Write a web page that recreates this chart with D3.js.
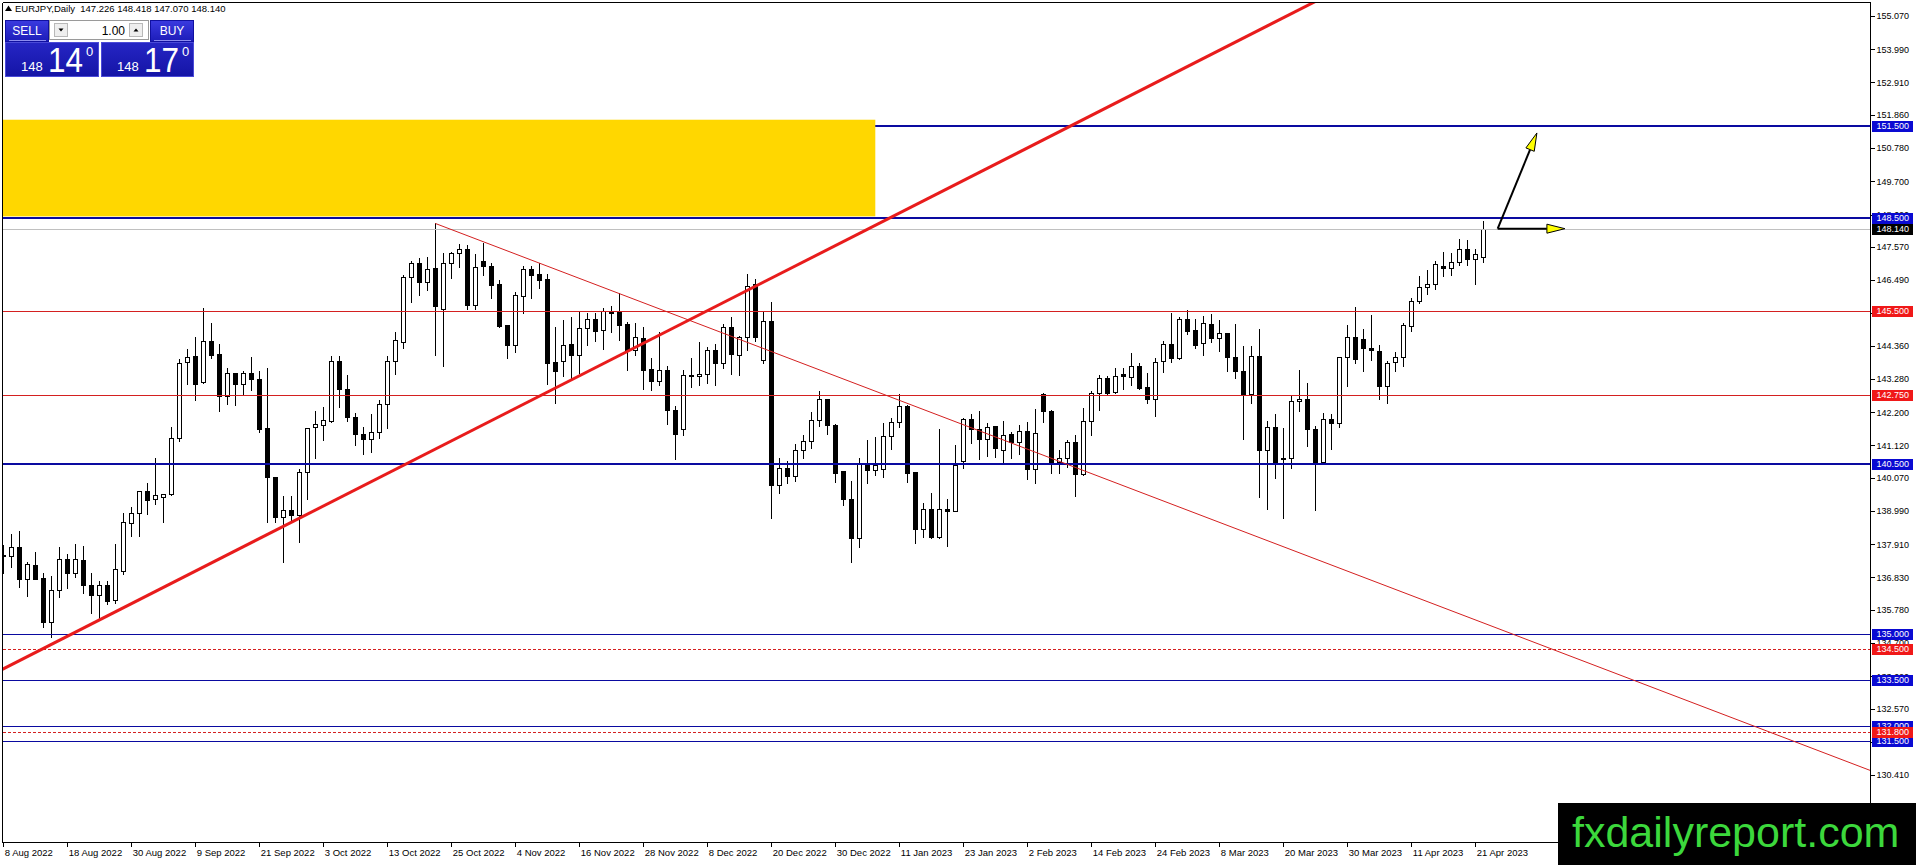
<!DOCTYPE html>
<html>
<head>
<meta charset="utf-8">
<title>EURJPY Daily</title>
<style>
  html, body { margin: 0; padding: 0; background: #fff; overflow: hidden; }
  svg { display: block; font-family: "Liberation Sans", Arial, sans-serif; }
</style>
</head>
<body>
<svg id="chart" width="1916" height="865"></svg>
<script src="https://cdn.jsdelivr.net/npm/d3@7/dist/d3.min.js"></script>
<script>
// daily bars, 8 Aug 2022 .. 24 Apr 2023 (weekdays)
const opens = [
  137.53,137.54,137.81,136.79,137.22,136.81,135.39,136.41,137.42,136.98,
  137.39,136.59,136.27,136.59,136.10,137.05,138.59,138.91,139.63,139.37,
  139.43,139.53,141.35,143.82,144.02,143.17,144.50,144.08,142.72,143.46,
  143.12,143.46,143.27,141.67,140.08,138.78,139.01,138.85,140.24,141.71,
  141.77,141.91,143.85,142.94,142.03,141.48,141.32,141.54,142.45,143.85,
  144.47,146.59,147.03,146.42,146.87,145.54,147.03,147.36,147.49,145.69,
  147.10,146.94,146.37,145.02,144.39,145.96,146.84,146.68,146.51,143.82,
  143.87,144.40,144.07,144.92,145.21,144.88,145.49,145.44,145.05,144.23,
  144.60,143.59,143.20,143.56,142.28,141.64,143.37,143.37,143.43,144.21,
  143.78,144.95,144.05,144.63,146.36,143.90,145.15,139.84,140.37,140.14,
  140.97,141.25,141.93,142.62,141.77,140.28,139.37,138.10,140.56,140.31,
  140.34,141.41,141.88,142.39,140.24,138.39,139.04,138.13,139.04,139.00,
  140.62,141.97,141.64,141.34,141.74,140.96,141.48,141.24,141.58,140.34,
  142.78,142.23,140.57,140.70,141.22,140.18,141.90,142.81,143.30,142.84,
  143.43,143.33,143.69,143.00,142.62,143.85,144.40,143.95,145.21,144.86,
  144.43,145.05,144.60,144.76,143.99,143.53,142.80,144.01,140.96,141.71,
  140.70,140.70,142.55,142.62,141.64,140.59,141.97,141.84,143.98,144.63,
  144.57,144.27,144.17,143.04,143.82,143.98,144.99,145.80,146.25,146.35,
  146.94,146.87,147.07,147.49,147.16,147.226
];
const highs = [
  137.88,138.23,138.34,137.34,137.64,136.98,136.88,137.81,137.58,137.91,
  137.86,136.98,136.71,136.71,137.91,138.91,139.13,139.65,139.91,140.70,
  139.54,141.71,143.93,144.24,144.65,145.57,145.08,144.40,143.62,143.48,
  143.55,144.00,143.53,143.62,140.10,139.48,139.48,140.34,141.69,142.24,
  142.38,144.03,144.03,143.42,142.16,141.73,142.14,142.59,144.03,144.80,
  146.67,147.10,147.20,147.23,148.33,147.36,147.41,147.65,147.63,147.33,
  147.71,147.03,146.49,145.03,146.09,146.94,146.94,147.03,146.68,144.98,
  145.19,145.30,145.44,145.43,145.43,145.57,145.65,146.06,145.14,145.09,
  144.97,143.96,144.79,143.70,142.39,143.56,143.96,144.49,144.32,144.40,
  145.05,145.28,144.67,146.68,146.52,145.44,145.77,140.71,140.60,141.15,
  141.45,142.20,142.89,142.63,141.83,140.29,139.95,140.70,141.30,141.38,
  141.84,142.00,142.79,142.42,140.25,139.24,139.56,141.65,139.37,141.13,
  142.00,142.13,142.23,141.84,141.75,141.91,141.54,141.77,141.88,142.29,
  142.81,142.27,140.97,141.28,141.45,142.32,142.88,143.40,143.37,143.62,
  143.62,144.11,143.78,143.46,143.95,144.50,145.41,145.28,145.51,145.21,
  145.31,145.38,145.18,144.77,145.05,144.34,144.34,144.91,141.92,142.15,
  141.67,142.73,143.57,143.14,141.76,142.16,142.13,144.00,145.02,145.60,
  144.89,145.34,144.37,143.86,144.16,145.09,145.90,146.61,146.81,147.10,
  147.39,147.36,147.81,147.78,147.49,148.418
];
const lows = [
  136.98,137.18,136.53,136.24,136.77,135.21,134.88,136.18,136.50,136.85,
  136.33,135.66,135.50,135.97,136.01,136.94,138.19,138.19,138.88,139.20,
  138.62,139.50,141.27,143.10,142.58,143.15,143.96,142.23,142.47,142.44,
  142.74,142.92,141.56,138.64,138.62,137.32,138.64,137.99,139.37,140.72,
  141.30,141.89,142.38,141.91,141.14,140.83,140.92,141.37,141.68,143.43,
  144.29,145.79,146.02,146.16,144.07,143.71,146.57,146.90,145.54,145.54,
  146.67,145.92,144.95,143.97,144.16,145.43,145.92,146.24,143.12,142.51,
  143.38,143.29,143.46,144.39,144.50,144.26,144.81,144.55,143.58,144.04,
  142.96,142.93,143.09,141.83,140.69,141.45,143.03,143.09,143.16,143.09,
  143.64,143.45,143.42,144.23,144.52,143.81,138.75,139.58,139.89,139.97,
  140.72,141.05,141.76,141.50,139.92,139.19,137.32,137.81,139.91,140.16,
  140.10,141.01,141.73,139.94,137.94,138.15,138.12,138.12,137.86,138.98,
  140.40,141.19,140.69,140.79,140.75,140.54,140.70,140.83,140.02,139.89,
  141.89,140.21,140.21,140.43,139.49,140.16,141.45,142.28,142.75,142.81,
  142.95,143.09,142.95,142.49,142.09,143.49,143.82,143.94,144.73,144.27,
  144.05,144.49,144.18,143.55,143.30,141.32,142.49,139.43,139.06,140.07,
  138.75,140.37,142.25,141.09,139.01,140.54,140.99,141.73,143.06,143.81,
  143.55,143.90,142.64,142.49,143.52,143.71,144.83,145.74,146.03,146.19,
  146.61,146.67,146.97,146.97,146.35,147.070
];
const closes = [
  137.56,137.81,136.79,137.26,136.79,135.39,136.41,137.42,136.98,137.42,
  136.59,136.27,136.59,136.07,137.09,138.62,138.91,139.63,139.35,139.50,
  139.53,141.35,143.81,144.00,143.10,144.50,144.07,142.72,143.46,143.10,
  143.46,143.27,141.65,140.08,138.78,139.01,138.85,140.24,141.67,141.80,
  141.93,143.85,142.94,142.03,141.48,141.32,141.54,142.45,143.85,144.53,
  146.59,147.03,146.42,146.86,145.66,147.03,147.36,147.49,145.69,146.90,
  146.94,146.34,145.01,144.39,145.99,146.84,146.67,146.50,143.81,143.55,
  144.37,144.07,144.93,145.21,144.85,145.49,145.43,145.04,144.23,144.63,
  143.58,143.20,143.56,142.28,141.48,143.40,143.41,143.44,144.21,143.78,
  144.95,144.08,144.63,146.31,144.63,145.15,139.84,140.37,140.14,140.97,
  141.25,141.93,142.62,141.77,140.23,139.37,138.10,140.56,140.31,140.47,
  141.41,141.88,142.39,140.23,138.39,139.04,138.13,139.04,139.00,140.49,
  141.97,141.64,141.34,141.73,141.05,141.45,141.24,141.58,140.34,141.51,
  142.23,140.54,140.70,141.22,140.18,141.90,142.81,143.30,142.81,143.36,
  143.36,143.69,142.99,142.62,143.82,144.40,143.95,145.21,144.85,144.37,
  145.08,144.60,144.76,143.98,143.52,142.80,144.01,140.96,141.71,140.54,
  140.69,142.55,142.62,141.64,140.54,141.97,141.84,143.98,144.63,143.94,
  144.27,144.21,143.04,143.78,143.98,145.02,145.80,146.25,146.35,147.00,
  146.87,147.07,147.49,147.16,147.33,148.140
];

const dateLabels = [
  "8 Aug 2022","18 Aug 2022","30 Aug 2022","9 Sep 2022","21 Sep 2022","3 Oct 2022",
  "13 Oct 2022","25 Oct 2022","4 Nov 2022","16 Nov 2022","28 Nov 2022","8 Dec 2022",
  "20 Dec 2022","30 Dec 2022","11 Jan 2023","23 Jan 2023","2 Feb 2023","14 Feb 2023",
  "24 Feb 2023","8 Mar 2023","20 Mar 2023","30 Mar 2023","11 Apr 2023","21 Apr 2023"
];
const priceTicks = [
  155.07,153.99,152.91,151.86,150.78,149.70,148.62,147.57,146.49,145.41,144.36,143.28,
  142.20,141.12,140.07,138.99,137.91,136.83,135.78,134.70,133.62,132.57,131.49,130.41
];

const majorBlueLevels = [151.5, 148.5, 140.5];
const minorBlueLevels = [135.0, 133.5, 132.0, 131.5];
const redLevels = [145.5, 142.75];
const redDashedLevels = [134.5, 131.8];
const lastPrice = 148.140;

const symbolName = "EURJPY,Daily";
const headerOhlc = [147.226, 148.418, 147.070, 148.140];
const bidParts = ["148", "14", "0"];
const askParts = ["148", "17", "0"];
const lotSize = "1.00";

// drawn objects: [bar index, price]
const supportTrend = [[0, 133.86], [100, 147.08]];
const resistTrend = [[54, 148.33], [130, 140.80]];
const zoneBars = [-5, 109];
const zonePrices = [151.70, 148.56];
const arrowFrom = [186.8, 148.16];
const arrowTargets = [[191.7, 151.27], [195.2, 148.16]];

const W = 1916, H = 865;
const pL = 2.5, pT = 2.5, pR = 1870.5, pB = 842.5;

const svg = d3.select("#chart");
const x = d3.scaleLinear().domain([0, 185]).range([3.3, 1483.3]);
const y = d3.scaleLinear().domain([130.41, 155.07]).range([775, 16]);
const px = v => Math.round(v) + 0.5;

const blueLine = "#0a0aa0", blueTag = "#0a0ad2";
const redLine = "#d42020", redTag = "#f01818";

const defs = svg.append("defs");
defs.append("clipPath").attr("id", "plot")
  .append("rect").attr("x", 3).attr("y", 3).attr("width", pR - 3.5).attr("height", pB - 3.5);

const plot = svg.append("g").attr("clip-path", "url(#plot)");

// candles
const bars = d3.range(opens.length).map(i => ({ i, o: opens[i], h: highs[i], l: lows[i], c: closes[i] }));
const cg = plot.append("g").attr("shape-rendering", "crispEdges");
cg.selectAll("line.wick").data(bars).join("line")
  .attr("class", "wick")
  .attr("x1", d => px(x(d.i))).attr("x2", d => px(x(d.i)))
  .attr("y1", d => Math.round(y(d.h))).attr("y2", d => Math.round(y(d.l)) + 1)
  .attr("stroke", "#000").attr("stroke-width", 1);
cg.selectAll("path.body").data(bars).join("path")
  .attr("class", "body")
  .attr("d", d => {
    const bx = Math.round(x(d.i));
    const t = Math.round(y(Math.max(d.o, d.c))) + 0.5;
    const b = Math.round(y(Math.min(d.o, d.c))) + 0.5;
    return `M${bx - 1.5},${t}H${bx + 2.5}V${b}H${bx - 1.5}Z`;
  })
  .attr("fill", d => d.c >= d.o ? "#fff" : "#000")
  .attr("stroke", "#000").attr("stroke-width", 1);

// horizontal levels
const lg = plot.append("g").attr("shape-rendering", "crispEdges");
function hline(p, color, width, dash) {
  const yy = width % 2 ? px(y(p)) : Math.round(y(p));
  const l = lg.append("line").attr("x1", pL).attr("x2", pR)
    .attr("y1", yy).attr("y2", yy).attr("stroke", color).attr("stroke-width", width);
  if (dash) l.attr("stroke-dasharray", dash);
}
hline(lastPrice, "#c0c0c0", 1);
majorBlueLevels.forEach(p => hline(p, blueLine, 2));
minorBlueLevels.forEach(p => hline(p, blueLine, 1));
redLevels.forEach(p => hline(p, redLine, 1));
redDashedLevels.forEach(p => hline(p, redLine, 1, "3,2"));

// supply zone (sits over the 151.5 level, just above the 148.5 level)
plot.append("rect")
  .attr("x", x(zoneBars[0])).attr("width", x(zoneBars[1]) - x(zoneBars[0]))
  .attr("y", y(zonePrices[0])).attr("height", y(zonePrices[1]) - y(zonePrices[0]))
  .attr("fill", "#ffd700");

// trend lines
function ray(pts, color, width, fromStart) {
  const [a, b] = pts;
  const slope = (b[1] - a[1]) / (b[0] - a[0]);
  const i0 = fromStart ? a[0] : -20, i1 = 260;
  plot.append("line")
    .attr("x1", x(i0)).attr("y1", y(a[1] + slope * (i0 - a[0])))
    .attr("x2", x(i1)).attr("y2", y(a[1] + slope * (i1 - a[0])))
    .attr("stroke", color).attr("stroke-width", width);
}
ray(supportTrend, "#e81c1c", 3, false);
ray(resistTrend, redLine, 1, true);

// arrows
function arrow(from, to) {
  const x0 = x(from[0]), y0 = y(from[1]), x1 = x(to[0]), y1 = y(to[1]);
  const ang = Math.atan2(y1 - y0, x1 - x0);
  const len = 18, hw = 4.5;
  const bxp = x1 - len * Math.cos(ang), byp = y1 - len * Math.sin(ang);
  plot.append("line").attr("x1", x0).attr("y1", y0).attr("x2", bxp).attr("y2", byp)
    .attr("stroke", "#000").attr("stroke-width", 2);
  const nx = -Math.sin(ang) * hw, ny = Math.cos(ang) * hw;
  plot.append("path")
    .attr("d", `M${x1},${y1}L${bxp + nx},${byp + ny}L${bxp - nx},${byp - ny}Z`)
    .attr("fill", "#ffff00").attr("stroke", "#000").attr("stroke-width", 1);
}
arrowTargets.forEach(t => arrow(arrowFrom, t));

// frame
const fg = svg.append("g").attr("shape-rendering", "crispEdges").attr("stroke", "#000");
fg.append("line").attr("x1", pL).attr("x2", pR).attr("y1", pT).attr("y2", pT);
fg.append("line").attr("x1", pL).attr("x2", pL).attr("y1", pT).attr("y2", pB);

// price axis
const yAxis = d3.axisRight(y).tickValues(priceTicks).tickFormat(d3.format(".3f"))
  .tickSize(4).tickPadding(2);
const ya = svg.append("g").attr("transform", `translate(${pR},0)`).call(yAxis);
ya.select(".domain").remove();
ya.selectAll(".tick line").attr("stroke", "#000").attr("shape-rendering", "crispEdges");
ya.selectAll(".tick text").attr("fill", "#000").style("font-size", "9px")
  .style("font-family", "'Liberation Sans', Arial, sans-serif");
fg.append("line").attr("x1", pR).attr("x2", pR).attr("y1", pT).attr("y2", pB);

// time axis
const xAxis = d3.axisBottom(x).tickValues(d3.range(0, opens.length, 8))
  .tickFormat((d, k) => dateLabels[k]).tickSize(4).tickPadding(3);
const xa = svg.append("g").attr("transform", `translate(0,${pB})`).call(xAxis);
xa.select(".domain").remove();
xa.selectAll(".tick line").attr("stroke", "#000").attr("shape-rendering", "crispEdges");
xa.selectAll(".tick text").attr("fill", "#000").attr("text-anchor", "start").attr("x", 1)
  .style("font-size", "9.5px").style("font-family", "'Liberation Sans', Arial, sans-serif");
fg.append("line").attr("x1", pL).attr("x2", pR).attr("y1", pB).attr("y2", pB);

// level tags on the price axis
const tg = svg.append("g").attr("shape-rendering", "crispEdges");
function tag(p, fill) {
  const yy = Math.round(y(p));
  tg.append("rect").attr("x", pR + 1.5).attr("y", yy - 5).attr("width", 41).attr("height", 11).attr("fill", fill);
  tg.append("text").attr("x", pR + 6).attr("y", yy).attr("dy", "0.35em")
    .attr("fill", "#fff").style("font-size", "9px").text(d3.format(".3f")(p));
}
majorBlueLevels.concat(minorBlueLevels).forEach(p => tag(p, blueTag));
redLevels.concat(redDashedLevels).forEach(p => tag(p, redTag));
tag(lastPrice, "#000");

// header
svg.append("path").attr("d", "M5,11L8.5,5.5L12,11Z").attr("fill", "#000");
svg.append("text").attr("x", 15).attr("y", 12).style("font-size", "9.5px").attr("fill", "#000")
  .attr("xml:space", "preserve").style("white-space", "pre")
  .text(symbolName + "  " + headerOhlc.map(d3.format(".3f")).join(" "));

// one-click trading panel
const pg = svg.append("g");
const grad = defs.append("linearGradient").attr("id", "btn").attr("x1", 0).attr("x2", 0).attr("y1", 0).attr("y2", 1);
grad.append("stop").attr("offset", "0%").attr("stop-color", "#3a3ae0");
grad.append("stop").attr("offset", "100%").attr("stop-color", "#1c1cb8");
const grad2 = defs.append("linearGradient").attr("id", "pnl").attr("x1", 0).attr("x2", 0).attr("y1", 0).attr("y2", 1);
grad2.append("stop").attr("offset", "0%").attr("stop-color", "#2626c4");
grad2.append("stop").attr("offset", "100%").attr("stop-color", "#1414a6");

function button(x0, x1, label) {
  pg.append("rect").attr("x", x0 + 0.5).attr("y", 20.5).attr("width", x1 - x0).attr("height", 21)
    .attr("fill", "url(#btn)").attr("stroke", "#1010a0");
  pg.append("line").attr("x1", x0 + 4).attr("x2", x1 - 2).attr("y1", 40.5).attr("y2", 40.5)
    .attr("stroke", "#8c8cf0");
  pg.append("text").attr("x", (x0 + x1) / 2 + 0.5).attr("y", 35).attr("text-anchor", "middle")
    .attr("fill", "#fff").style("font-size", "12px").text(label);
}
button(5, 48, "SELL");
button(150, 193, "BUY");

pg.append("rect").attr("x", 49.5).attr("y", 20.5).attr("width", 99).attr("height", 19)
  .attr("fill", "#fff").attr("stroke", "#9a9a9a");
pg.append("rect").attr("x", 54.5).attr("y", 23.5).attr("width", 13).attr("height", 13)
  .attr("fill", "#eeeeee").attr("stroke", "#b8b8b8");
pg.append("path").attr("d", "M58.5,28.5L63.5,28.5L61,31.5Z").attr("fill", "#000");
pg.append("rect").attr("x", 129.5).attr("y", 23.5).attr("width", 13).attr("height", 13)
  .attr("fill", "#eeeeee").attr("stroke", "#b8b8b8");
pg.append("path").attr("d", "M133.5,31.5L138.5,31.5L136,28.5Z").attr("fill", "#000");
pg.append("text").attr("x", 125).attr("y", 34.5).attr("text-anchor", "end")
  .attr("fill", "#000").style("font-size", "12px").text(lotSize);

function pricePanel(x0, x1, parts) {
  pg.append("rect").attr("x", x0 + 0.5).attr("y", 42.5).attr("width", x1 - x0).attr("height", 34)
    .attr("fill", "url(#pnl)").attr("stroke", "#4a4ad8");
  pg.append("text").attr("x", x0 + 16).attr("y", 71).attr("fill", "#fff")
    .style("font-size", "13px").text(parts[0]);
  pg.append("text").attr("x", x0 + 43).attr("y", 72).attr("fill", "#fff")
    .style("font-size", "35px").attr("textLength", 35).attr("lengthAdjust", "spacingAndGlyphs").text(parts[1]);
  pg.append("text").attr("x", x0 + 81).attr("y", 56).attr("fill", "#fff")
    .style("font-size", "13px").text(parts[2]);
}
pricePanel(5, 98, bidParts);
pricePanel(101, 193, askParts);

// watermark
svg.append("rect").attr("x", 1558).attr("y", 803).attr("width", W - 1558).attr("height", H - 803).attr("fill", "#000");
svg.append("text").attr("x", 1572).attr("y", 847).attr("fill", "#3cd83c")
  .style("font-size", "43px").text("fxdailyreport.com");
</script>
</body>
</html>
